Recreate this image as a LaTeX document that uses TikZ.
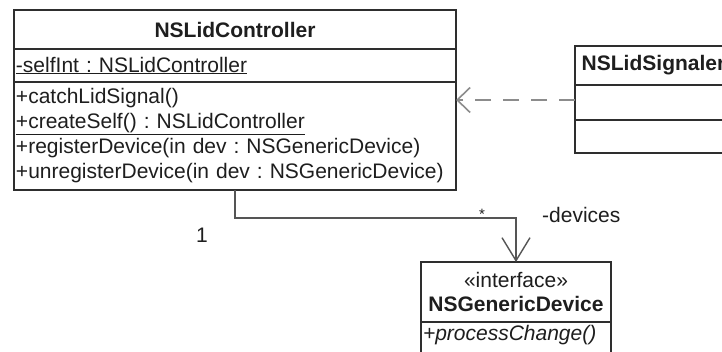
\documentclass[tikz,border=0pt]{standalone}
\usepackage{fontspec}
\setmainfont{Liberation Sans}
\usetikzlibrary{positioning,arrows.meta}
\definecolor{edge}{HTML}{2E2E2E}
\definecolor{link}{HTML}{555555}
\definecolor{dep}{HTML}{8C8C8C}
\definecolor{ink}{HTML}{1E1E1E}
\newcommand{\umlsize}{\fontsize{21}{25}\selectfont\frenchspacing}
\tikzset{
  part/.style={draw=edge, line width=1.4pt, fill=white, text=ink, outer sep=0pt,
               inner xsep=2pt, inner ysep=0pt, font=\umlsize},
  ctrlpart/.style={part, text width=438pt, align=left},
  sigpart/.style={part, minimum width=157pt},
  devpart/.style={part, text width=186pt, align=center},
  assoc/.style={draw=link, line width=1.4pt, -{Straight Barb[length=23pt,width=28pt]}},
  usage/.style={draw=dep, line width=1.6pt, dash pattern=on 16pt off 12pt,
                -{Straight Barb[length=13pt,width=25pt]}},
  mult/.style={font=\umlsize, text=ink, inner sep=0pt},
}

\begin{document}
\begin{tikzpicture}[x=1pt,y=-1pt]
  \useasboundingbox[fill=white] (0,0) rectangle (722,352);
  \clip (0,0) rectangle (722,352);

  % controller class
  \node[ctrlpart,align=center,minimum height=39pt] (ctrlHead) at (235,29.5) {\textbf{NSLidController}};
  \node[ctrlpart,minimum height=33pt,below=0pt of ctrlHead] (ctrlAttr) {\underline{-selfInt : NSLidController}};
  \node[ctrlpart,minimum height=108pt,below=0pt of ctrlAttr] (ctrlOps)
    {+catchLidSignal()\\
     \underline{+createSelf() : NSLidController}\\
     +registerDevice(in dev : NSGenericDevice)\\
     +unregisterDevice(in dev : NSGenericDevice)};

  % signaler class, runs off the right side
  \node[sigpart,minimum height=39pt] (sigHead) at (653.5,65.5) {\textbf{NSLidSignaler}};
  \node[sigpart,minimum height=35pt,below=0pt of sigHead] (sigAttr) {};
  \node[sigpart,minimum height=33pt,below=0pt of sigAttr] (sigOps) {};

  % device interface
  \node[devpart,minimum height=60pt] (devHead) at (516,292)
    {\guillemotleft interface\guillemotright\\[-1pt]\textbf{NSGenericDevice}};
  \node[devpart,align=left,text height=15pt,text depth=40pt,inner ysep=3pt,below=0pt of devHead] (devOps)
    {\textit{+processChange()}};

  \draw[usage] ([yshift=2.5pt]sigAttr.west) -- ([yshift=2.5pt]sigAttr.west -| ctrlOps.east);
  \draw[assoc] (ctrlOps.south) -- ++(0,28) coordinate (bend) -| (devHead.north);

  \node[mult] (one) at (202,235) {1};
  \node[mult,font=\fontsize{15}{18}\selectfont] (many) at (482,214) {*};
  \node[mult,anchor=west] (role) at (542,215) {-devices};
\end{tikzpicture}
\end{document}
